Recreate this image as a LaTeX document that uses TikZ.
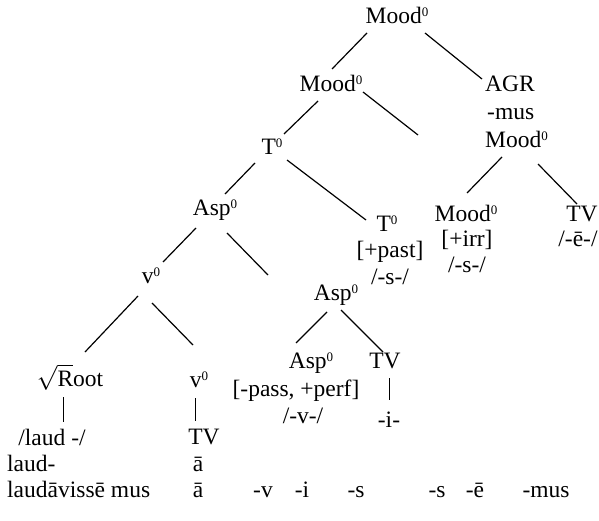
\documentclass[tikz,border=0pt]{standalone}
\usepackage{fontspec}
\setmainfont{Liberation Serif}
\usetikzlibrary{calc}
% small raised zero for the category labels
\newcommand\zsup{\raisebox{7pt}{\fontsize{13}{13}\selectfont 0}}
\begin{document}
\begin{tikzpicture}[x=1pt,y=-1pt,
  lbl/.style={inner sep=0pt, anchor=base, font=\fontsize{23.5}{28}\selectfont},
  lblw/.style={lbl, anchor=base west},
  branch/.style={line width=1.2pt, line cap=butt},
  stem/.style={line width=0.9pt, line cap=butt}]
\fill[white] (0,0) rectangle (599,521);
\useasboundingbox (0,0) rectangle (599,521);

% upper part of the tree
\node[lbl]  (mTop)    at (397,24)  {Mood\zsup};
\node[lbl]  (mA)      at (331,92)  {Mood\zsup};
\node[lblw] (agr)     at (485,92)  {AGR};
\node[lblw] (agrMus)  at (487,120) {-mus};
\node[lblw] (agrMood) at (485,148) {Mood\zsup};
\node[lbl]  (tA)      at (272,155) {T\zsup};
\node[lbl]  (aspA)    at (215,216) {Asp\zsup};
\node[lbl]  (tB)      at (387,232) {T\zsup};
\node[lbl]  (past)    at (390,258) {[+past]};
\node[lbl]  (tBs)     at (390,284) {/-s-/};
\node[lbl]  (mB)      at (466,222) {Mood\zsup};
\node[lbl]  (irr)     at (467,247) {[+irr]};
\node[lbl]  (mBs)     at (467,272) {/-s-/};
\node[lbl]  (tvA)     at (582,222) {TV};
\node[lbl]  (tvAe)    at (578,247) {/-ē-/};
\node[lbl]  (vA)      at (151,283) {v\zsup};
\node[lbl]  (aspB)    at (336,300) {Asp\zsup};

% lower part of the tree
\node[lbl]  (aspC)    at (311,368) {Asp\zsup};
\node[lbl]  (tvB)     at (385,368) {TV};
\node[lbl]  (perf)    at (296,396) {[-pass, +perf]};
\node[lbl]  (vv)      at (303,423) {/-v-/};
\node[lbl]  (ii)      at (389,427) {-i-};
\node[lbl]  (root)    at (70,386)  {$\sqrt{\hbox{R}}$oot};
\node[lbl]  (vB)      at (199,387) {v\zsup};
\node[lbl]  (laud)    at (52,445)  {/laud -/};
\node[lbl]  (tvC)     at (204,444) {TV};
\node[lblw] (laudH)   at (7,471)   {laud-};
\node[lbl]  (aA)      at (198,471) {ā};
\node[lblw] (word)    at (7,497)   {laudāvissē mus};
\node[lbl]  (aB)      at (198,497) {ā};
\node[lbl]  (sV)      at (263,497) {-v};
\node[lbl]  (sI)      at (302,497) {-i};
\node[lbl]  (sS)      at (356,497) {-s};
\node[lbl]  (sS2)     at (437,497) {-s};
\node[lbl]  (sE)      at (475,497) {-ē};
\node[lbl]  (sMus)    at (546,497) {-mus};

% free ends of the two empty branches
\coordinate (endMood) at (418,135);
\coordinate (endAsp)  at (268,275);

% branches
\draw[branch] ($(mTop.base)+(-30,9)$)    -- ($(mA.base)+(1,-23)$);
\draw[branch] ($(mTop.base)+(28,9)$)     -- ($(agr.base west)+(-3,-13)$);
\draw[branch] ($(mA.base)+(-13,9)$)      -- ($(tA.base)+(12,-21)$);
\draw[branch] ($(mA.base)+(32,0)$)       -- (endMood);
\draw[branch] ($(tA.base)+(-17,8)$)      -- ($(aspA.base)+(10,-22)$);
\draw[branch] ($(tA.base)+(15,5)$)       -- ($(tB.base)+(-21,-12)$);
\draw[branch] ($(agrMood.base west)+(17,9)$)  -- ($(mB.base)+(1,-29)$);
\draw[branch] ($(agrMood.base west)+(53,16)$) -- ($(tvA.base)+(-5,-18)$);
\draw[branch] ($(aspA.base)+(-19,12)$)   -- ($(vA.base)+(12,-21)$);
\draw[branch] ($(aspA.base)+(12,17)$)    -- (endAsp);
\draw[branch] ($(vA.base)+(-13,13)$)     -- ($(root.base)+(15,-34)$);
\draw[branch] ($(vA.base)+(1,20)$)       -- ($(vB.base)+(-6,-42)$);
\draw[branch] ($(aspB.base)+(-9,12)$)    -- ($(aspC.base)+(-15,-25)$);
\draw[branch] ($(aspB.base)+(5,10)$)     -- ($(tvB.base)+(-2,-16)$);

% vertical links to the exponents
\draw[stem] ($(root.base)+(-7,11)$)    -- ($(laud.base)+(11,-23)$);
\draw[stem] ($(vB.base)+(-4,11)$)      -- ($(tvC.base)+(-9,-23)$);
\draw[stem] ($(tvB.base)+(4,10)$)      -- ($(ii.base)+(0,-27)$);
\end{tikzpicture}
\end{document}
